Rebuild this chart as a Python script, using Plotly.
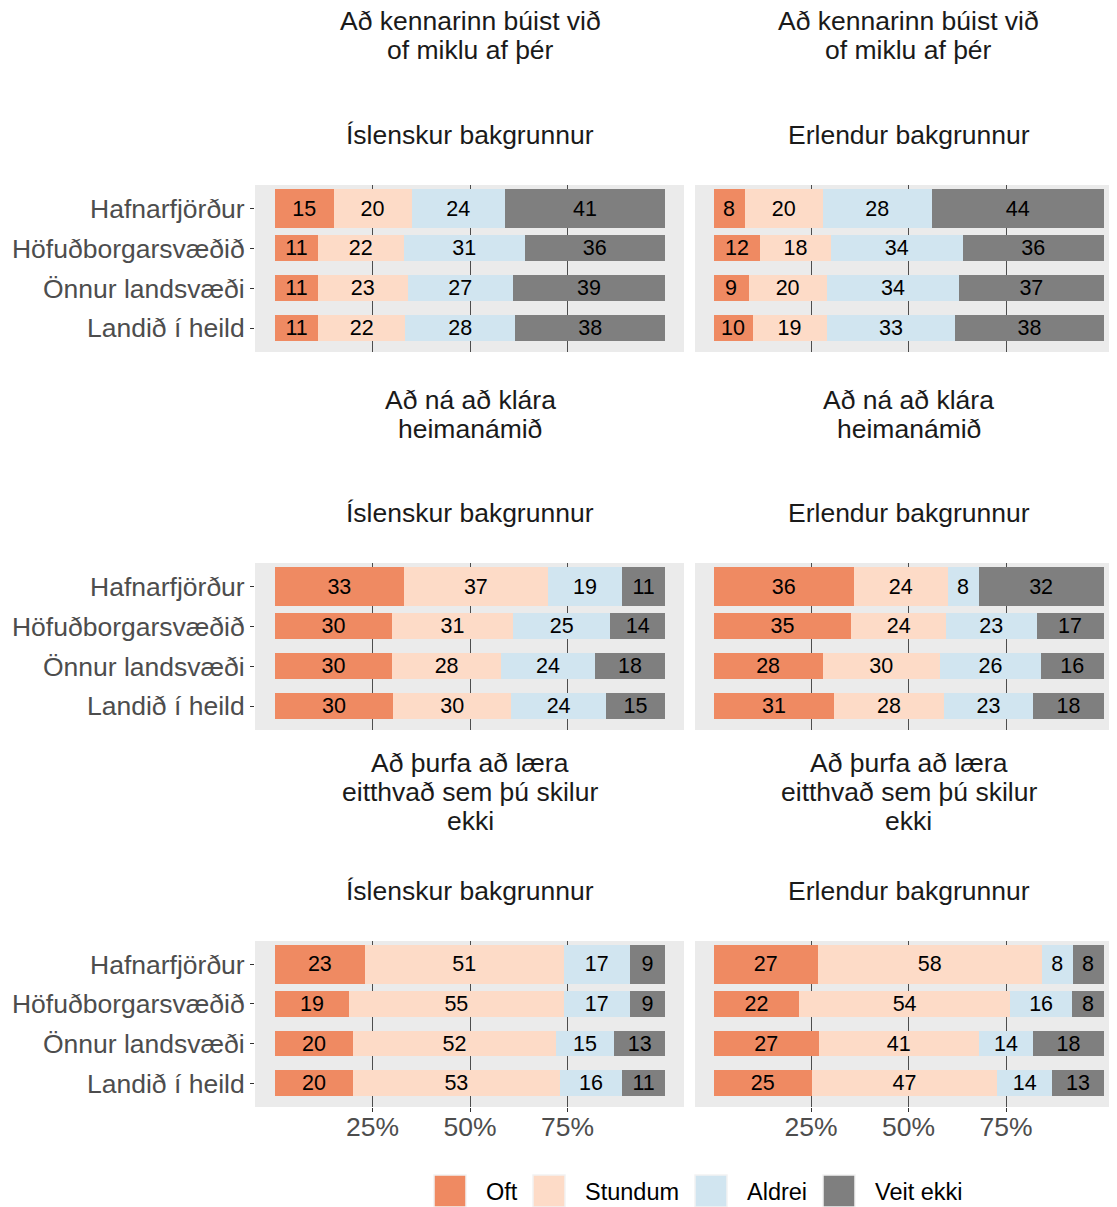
import plotly.graph_objects as go

# Flokkar og litir
regions = ['Hafnarfjörður', 'Höfuðborgarsvæðið', 'Önnur landsvæði', 'Landið í heild']
answers = ['Oft', 'Stundum', 'Aldrei', 'Veit ekki']
answer_colors = ['#EF8A62', '#FDDBC7', '#D1E5F0', '#7F7F7F']
backgrounds = ['Íslenskur bakgrunnur', 'Erlendur bakgrunnur']
questions = [
    ['Að kennarinn búist við', 'of miklu af þér'],
    ['Að ná að klára', 'heimanámið'],
    ['Að þurfa að læra', 'eitthvað sem þú skilur', 'ekki'],
]

# Hlutföll (%) - ein röð fyrir hvert svæði: Oft, Stundum, Aldrei, Veit ekki
kennari_isl = [[15, 20, 24, 41], [11, 22, 31, 36], [11, 23, 27, 39], [11, 22, 28, 38]]
kennari_erl = [[8, 20, 28, 44], [12, 18, 34, 36], [9, 20, 34, 37], [10, 19, 33, 38]]
heimanam_isl = [[33, 37, 19, 11], [30, 31, 25, 14], [30, 28, 24, 18], [30, 30, 24, 15]]
heimanam_erl = [[36, 24, 8, 32], [35, 24, 23, 17], [28, 30, 26, 16], [31, 28, 23, 18]]
laera_isl = [[23, 51, 17, 9], [19, 55, 17, 9], [20, 52, 15, 13], [20, 53, 16, 11]]
laera_erl = [[27, 58, 8, 8], [22, 54, 16, 8], [27, 41, 14, 18], [25, 47, 14, 13]]

panels = [[kennari_isl, kennari_erl], [heimanam_isl, heimanam_erl], [laera_isl, laera_erl]]

# Útlit (pixlar í glugganum; síðan hefur 8px spássíu í body)
WIN_W, WIN_H, OFF = 1117, 1207, 8
W, H = WIN_W - OFF, WIN_H - OFF


def px_x(p):
    return (p - OFF) / W


def px_y(p):
    return 1 - (p - OFF) / H


col_px = [(255, 684), (695, 1117)]
zero_px = [275, 713.5]
px_per_unit = 390
row_px = [(185, 352), (563, 730), (941, 1107)]
title_line_y = [[21, 50], [400, 429], [763, 792, 821]]
bar_widths = [1.0, 0.65, 0.65, 0.65]

fig = go.Figure()
layout = dict(
    width=W, height=H,
    margin=dict(l=0, r=0, t=0, b=0),
    paper_bgcolor='white', plot_bgcolor='#EBEBEB',
    barmode='stack', showlegend=False, hovermode=False,
    font=dict(family='Liberation Sans, Arial, sans-serif', color='#1A1A1A'),
)
annotations = []
shapes = []

for r, row in enumerate(panels):
    for c, vals in enumerate(row):
        k = r * 2 + c + 1
        xa = 'x' if k == 1 else f'x{k}'
        ya = 'y' if k == 1 else f'y{k}'
        for j, ans in enumerate(answers):
            xs = [v[j] / sum(v) for v in vals]
            fig.add_trace(go.Bar(
                x=xs, y=regions, orientation='h', width=bar_widths,
                marker=dict(color=answer_colors[j], line=dict(width=0)),
                text=[str(v[j]) for v in vals], textposition='inside',
                insidetextanchor='middle', textangle=0, constraintext='none',
                textfont=dict(size=21.5, color='black'),
                name=ans, xaxis=xa, yaxis=ya,
            ))
        x0, x1 = col_px[c]
        y0, y1 = row_px[r]
        bottom = r == len(panels) - 1
        layout['xaxis' if k == 1 else f'xaxis{k}'] = dict(
            domain=[px_x(x0), min(px_x(x1), 1)], anchor=ya,
            range=[(x0 - zero_px[c]) / px_per_unit, (x1 - zero_px[c]) / px_per_unit],
            tickvals=[0.25, 0.5, 0.75], ticktext=['25%', '50%', '75%'],
            showticklabels=bottom, ticks='outside' if bottom else '',
            ticklen=4, tickcolor='#333333', tickwidth=1, ticklabelstandoff=-8,
            tickfont=dict(size=26.5, color='#4D4D4D'),
            showgrid=True, gridcolor='#4D4D4D', gridwidth=1,
            zeroline=False, showline=False, fixedrange=True,
        )
        layout['yaxis' if k == 1 else f'yaxis{k}'] = dict(
            domain=[px_y(y1), px_y(y0)], anchor=xa,
            type='category', categoryorder='array', categoryarray=regions,
            range=[3.6, -0.59],
            showticklabels=(c == 0), ticks='outside' if c == 0 else '',
            ticklen=4, tickcolor='#333333', tickwidth=1,
            tickfont=dict(size=26.5, color='#4D4D4D'),
            showgrid=False, zeroline=False, showline=False, fixedrange=True,
        )
        cx = px_x(zero_px[c] + px_per_unit * 0.5)
        for line, ly in zip(questions[r], title_line_y[r]):
            annotations.append(dict(
                text=line, x=cx, y=px_y(ly), xref='paper', yref='paper',
                xanchor='center', yanchor='middle', showarrow=False,
                font=dict(size=26.5, color='#1A1A1A'),
            ))
        annotations.append(dict(
            text=backgrounds[c], x=cx, y=px_y(y0 - 50), xref='paper', yref='paper',
            xanchor='center', yanchor='middle', showarrow=False,
            font=dict(size=26.5, color='#1A1A1A'),
        ))

# Skýringar (legend) teiknaðar handvirkt
legend_x = [434, 533, 695, 823]
legend_top, key = 1175, 32
for ans, col, lx in zip(answers, answer_colors, legend_x):
    shapes.append(dict(
        type='rect', xref='paper', yref='paper',
        x0=px_x(lx), x1=px_x(lx + key), y0=max(px_y(legend_top + key), 0), y1=px_y(legend_top),
        fillcolor=col, line=dict(color='#F2F2F2', width=1.5),
    ))
    annotations.append(dict(
        text=ans, x=px_x(lx + key + 18), y=px_y(legend_top + key / 2 + 1),
        xref='paper', yref='paper', xanchor='left', yanchor='middle',
        showarrow=False, font=dict(size=23.5, color='black'),
    ))

layout['annotations'] = annotations
layout['shapes'] = shapes
fig.update_layout(**layout)

fig.write_html("out.html")
